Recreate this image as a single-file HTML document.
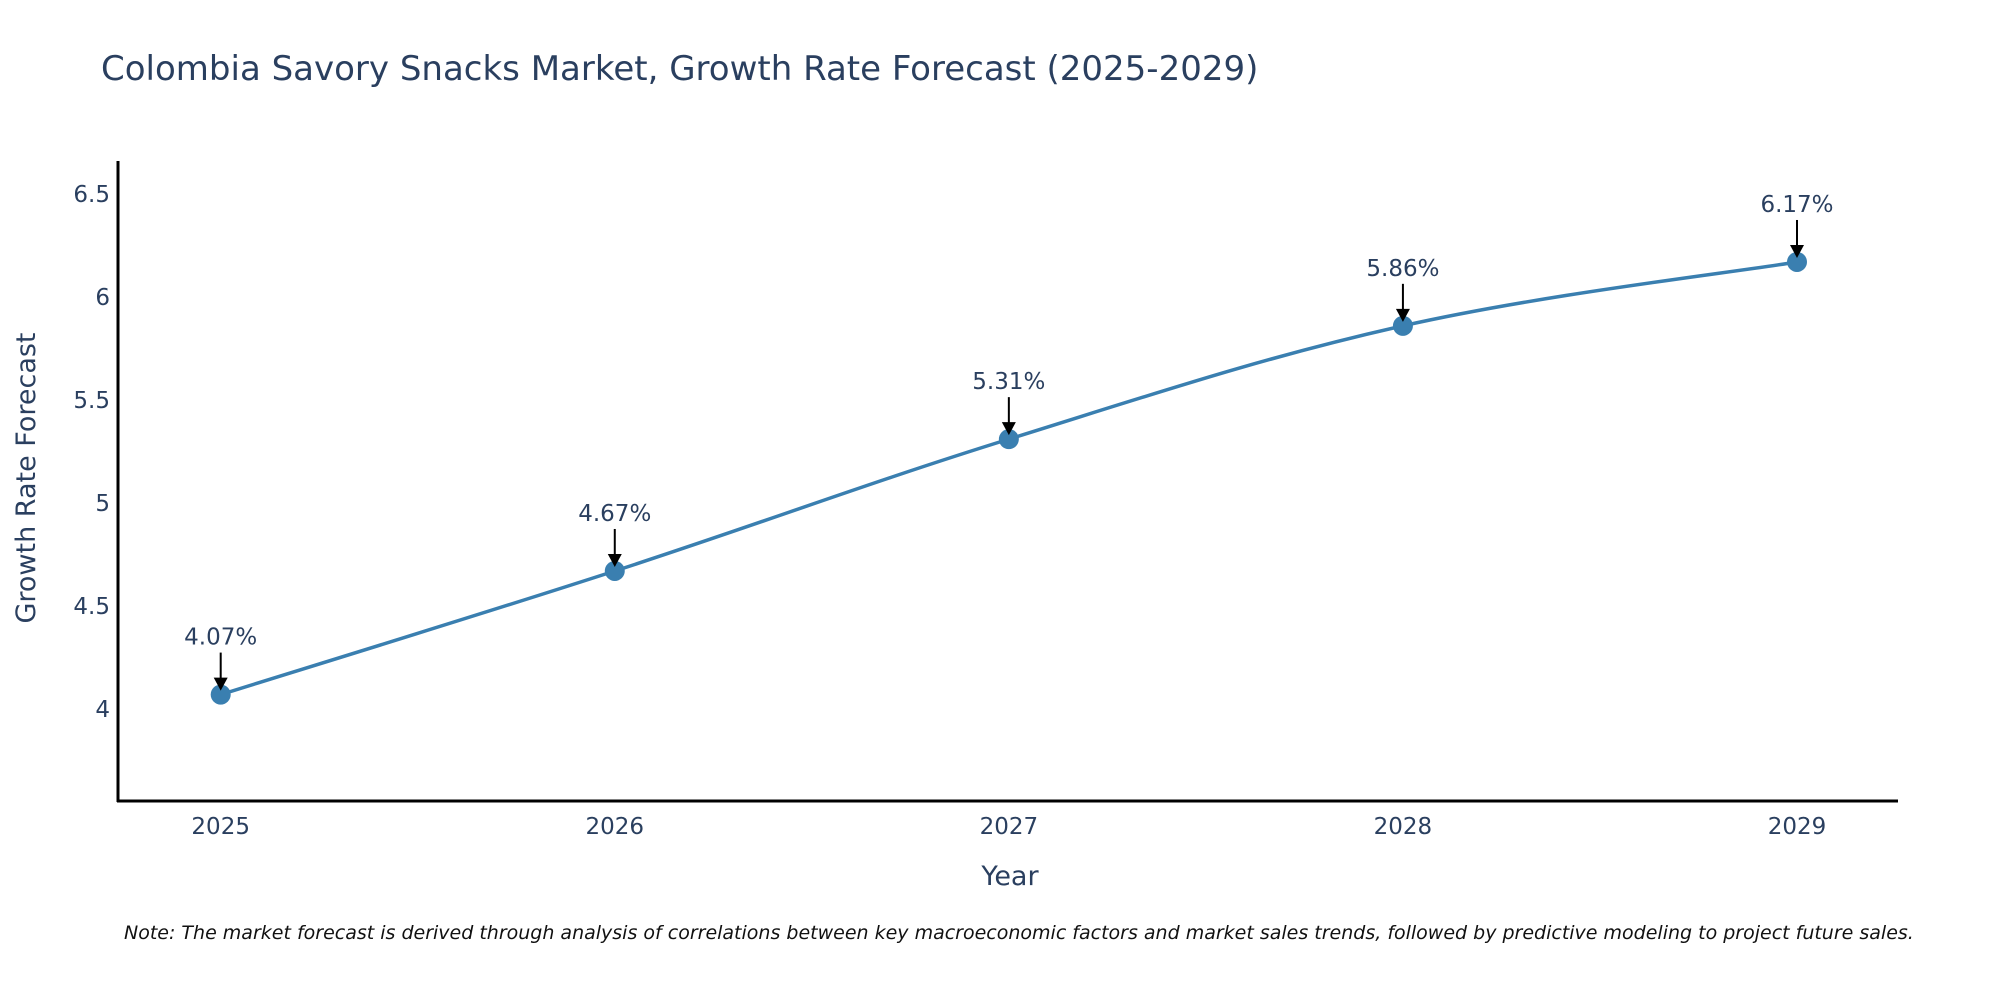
<!DOCTYPE html>
<html><head><meta charset="utf-8"><style>
body{margin:0;background:#fff;}
svg{display:block;font-family:"DejaVu Sans","Liberation Sans",sans-serif;}
</style></head><body>
<svg id="chart" width="2000" height="1000" viewBox="0 0 2000 1000">
<text x="101" y="80" font-size="34" fill="#2a3f5f">Colombia Savory Snacks Market, Growth Rate Forecast (2025-2029)</text>
<g id="yticks"></g>
<g id="xticks"></g>
<path id="line" fill="none" stroke="#3a7fb0" stroke-width="3.5"/>
<g id="marks"></g>
<line x1="118" y1="161" x2="118" y2="802" stroke="#000" stroke-width="3"/>
<line x1="117" y1="801" x2="1898" y2="801" stroke="#000" stroke-width="3"/>
<text x="1010" y="885" font-size="27" fill="#2a3f5f" text-anchor="middle">Year</text>
<text transform="translate(35,478) rotate(-90)" font-size="27" fill="#2a3f5f" text-anchor="middle">Growth Rate Forecast</text>
<text x="124" y="939" font-size="19" font-style="italic" fill="#111">Note: The market forecast is derived through analysis of correlations between key macroeconomic factors and market sales trends, followed by predictive modeling to project future sales.</text>
</svg>
<script>
const years = [2025, 2026, 2027, 2028, 2029];
const values = [4.07, 4.67, 5.31, 5.86, 6.17];
const labels = ["4.07%", "4.67%", "5.31%", "5.86%", "6.17%"];
const yTicks = [4, 4.5, 5, 5.5, 6, 6.5];
const yTickLabels = ["4", "4.5", "5", "5.5", "6", "6.5"];
const NS = "http://www.w3.org/2000/svg";
const xs = v => 220.7 + (v - 2025) * (1797 - 220.7) / 4;
const ys = v => 709 - (v - 4) * 206;
function mk(t, a, p) { const e = document.createElementNS(NS, t); for (const k in a) e.setAttribute(k, a[k]); p.appendChild(e); return e; }
const yg = document.getElementById('yticks');
yTicks.forEach((v, i) => {
  const t = mk('text', {x: 110, y: ys(v) + 8, 'font-size': 23, fill: '#2a3f5f', 'text-anchor': 'end'}, yg);
  
  
  t.textContent = yTickLabels[i];
});
const xg = document.getElementById('xticks');
years.forEach(v => {
  const t = mk('text', {x: xs(v), y: 834, 'font-size': 23, fill: '#2a3f5f', 'text-anchor': 'middle'}, xg);
  
  
  t.textContent = v;
});
const pts = years.map((y, i) => [xs(y), ys(values[i])]);
let d = 'M' + pts[0][0] + ',' + pts[0][1];
const s = 0.18;
for (let i = 0; i < pts.length - 1; i++) {
  const p0 = pts[Math.max(0, i - 1)], p1 = pts[i], p2 = pts[i + 1], p3 = pts[Math.min(pts.length - 1, i + 2)];
  const c1 = [p1[0] + (p2[0] - p0[0]) * s, p1[1] + (p2[1] - p0[1]) * s];
  const c2 = [p2[0] - (p3[0] - p1[0]) * s, p2[1] - (p3[1] - p1[1]) * s];
  d += ' C' + c1 + ' ' + c2 + ' ' + p2;
}
document.getElementById('line').setAttribute('d', d);
const mg = document.getElementById('marks');
pts.forEach((p, i) => {
  const c = mk('circle', {cx: p[0], cy: p[1], r: 10, fill: '#3a7fb0'}, mg);
  
  
  const l = mk('line', {x1: p[0], y1: p[1] - 42, x2: p[0], y2: p[1] - 14, stroke: '#000', 'stroke-width': 2}, mg);
  
  
  const h = mk('path', {d: `M${p[0]-7},${p[1]-17} L${p[0]+7},${p[1]-17} L${p[0]},${p[1]-4} Z`, fill: '#000'}, mg);
  
  
  const t = mk('text', {x: p[0], y: p[1] - 50, 'font-size': 23, fill: '#2a3f5f', 'text-anchor': 'middle'}, mg);
  
  
  t.textContent = labels[i];
});
</script>
</body></html>
